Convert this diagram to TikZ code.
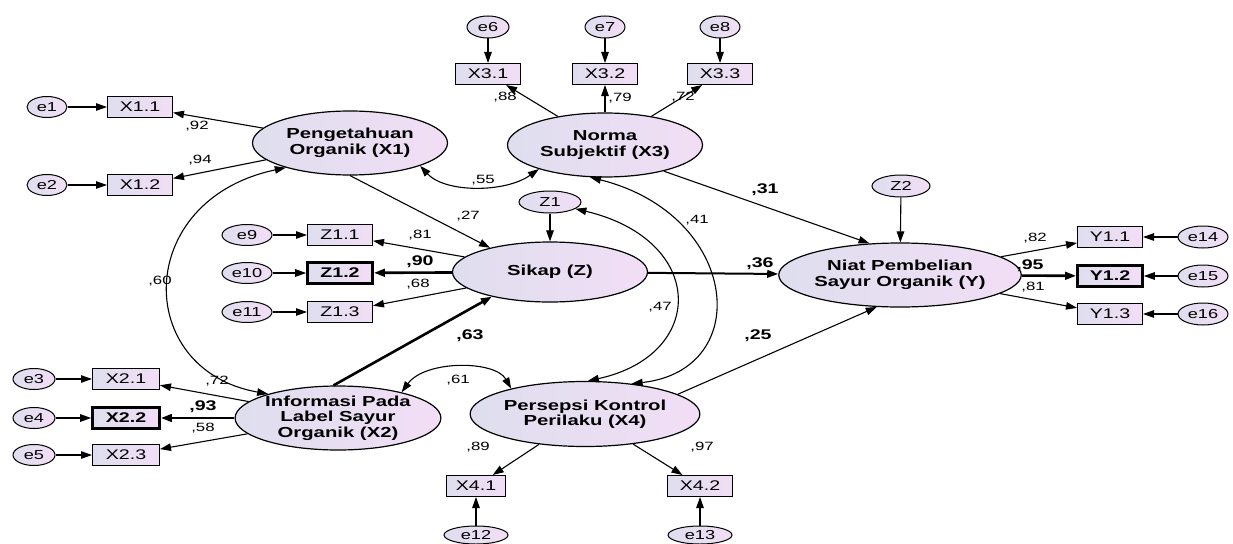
\documentclass[tikz,border=0pt]{standalone}
\usepackage{fontspec}
\setmainfont{Liberation Sans}[FakeStretch=1.4]
\usetikzlibrary{shapes.geometric,arrows.meta}
\definecolor{latL}{RGB}{222,222,238}
\definecolor{latR}{RGB}{242,222,246}
\begin{document}
\begin{tikzpicture}[x=1pt,y=-1pt,
 lat/.style={ellipse,draw,line width=1.2pt,left color=latL,right color=latR,minimum width=195pt,minimum height=64pt,inner sep=0pt,align=center,font=\fontsize{14.5}{15.5}\selectfont\bfseries},
 ind/.style={rectangle,draw,line width=1pt,left color=latL,right color=latR,minimum width=65pt,minimum height=21pt,inner sep=0pt,font=\fontsize{14}{15}\selectfont},
 indb/.style={ind,line width=2.6pt,font=\fontsize{14}{15}\selectfont\bfseries},
 err/.style={ellipse,draw,line width=1pt,left color=latL,right color=latR,minimum width=44pt,minimum height=21pt,inner sep=0pt,font=\fontsize{13}{14}\selectfont},
 pth/.style={-{Triangle[length=11pt,width=7.5pt]},line width=1.1pt},
 pthb/.style={pth,line width=2.6pt},
 cov/.style={{Triangle[length=11pt,width=7.5pt]}-{Triangle[length=11pt,width=7.5pt]},line width=1.1pt},
 lbl/.style={inner sep=0pt,font=\fontsize{12}{13}\selectfont},
 lblb/.style={inner sep=0pt,font=\fontsize{14}{15}\selectfont\bfseries}]
\fill[white] (0,0) rectangle (1233,543);
\useasboundingbox (0,0) rectangle (1233,543);

% latent variables
\node[lat] (X1) at (350,143) {Pengetahuan\\Organik (X1)};
\node[lat] (X3) at (605,145) {Norma\\Subjektif (X3)};
\node[lat,minimum height=60pt] (Z) at (550,272) {Sikap (Z)};
\node[lat] (Y) at (900,275) {Niat Pembelian\\Sayur Organik (Y)};
\node[lat] (X2) at (338,418) {Informasi Pada\\Label Sayur\\Organik (X2)};
\node[lat,minimum height=65pt] (X4) at (585,414) {Persepsi Kontrol\\Perilaku (X4)};

% indicators
\node[ind] (X11) at (140,107) {X1.1};
\node[ind] (X12) at (140,185) {X1.2};
\node[ind] (X31) at (488,74) {X3.1};
\node[ind] (X32) at (605,74) {X3.2};
\node[ind] (X33) at (720,74) {X3.3};
\node[ind] (Z11) at (340,235) {Z1.1};
\node[indb] (Z12) at (340,273) {Z1.2};
\node[ind] (Z13) at (340,312) {Z1.3};
\node[ind] (Y11) at (1110,237) {Y1.1};
\node[indb] (Y12) at (1110,276) {Y1.2};
\node[ind] (Y13) at (1110,314) {Y1.3};
\node[ind,minimum width=67pt] (X21) at (126,379) {X2.1};
\node[indb,minimum width=67pt] (X22) at (126,418) {X2.2};
\node[ind,minimum width=67pt] (X23) at (126,455) {X2.3};
\node[ind,minimum width=59pt] (X41) at (476,486) {X4.1};
\node[ind] (X42) at (700,486) {X4.2};

% errors / disturbances
\node[err,minimum width=40pt] (e1) at (47,107) {e1};
\node[err,minimum width=40pt] (e2) at (47,185) {e2};
\node[err,minimum width=42pt,minimum height=22pt] (e6) at (488,27) {e6};
\node[err,minimum width=40pt,minimum height=22pt] (e7) at (605,27) {e7};
\node[err,minimum width=40pt,minimum height=22pt] (e8) at (720,27) {e8};
\node[err,minimum width=50pt] (e9) at (247,235) {e9};
\node[err,minimum width=50pt] (e10) at (247,273) {e10};
\node[err,minimum width=50pt] (e11) at (247,312) {e11};
\node[err,minimum width=50pt,minimum height=22pt] (e14) at (1203,237) {e14};
\node[err,minimum width=50pt,minimum height=22pt] (e15) at (1203,276) {e15};
\node[err,minimum width=50pt,minimum height=22pt] (e16) at (1203,314) {e16};
\node[err,minimum width=42pt] (e3) at (34,379) {e3};
\node[err,minimum width=42pt] (e4) at (34,418) {e4};
\node[err,minimum width=42pt] (e5) at (34,455) {e5};
\node[err,minimum width=64pt,minimum height=18pt] (e12) at (476,535) {e12};
\node[err,minimum width=64pt,minimum height=18pt] (e13) at (700,535) {e13};
\node[err,minimum width=62pt,minimum height=22pt] (Z1) at (550,202) {Z1};
\node[err,minimum width=58pt,minimum height=22pt] (Z2) at (901,186) {Z2};

% error arrows
\foreach \e/\i in {e1/X11,e2/X12,e6/X31,e7/X32,e8/X33,e9/Z11,e10/Z12,e11/Z13,e14/Y11,e15/Y12,e16/Y13,e3/X21,e4/X22,e5/X23,e12/X41,e13/X42}
  \draw[pth] (\e) -- (\i);

% loadings
\draw[pth] (X1) -- (X11);
\draw[pth] (X1) -- (X12);
\draw[pth] (X3) -- (X31);
\draw[pth] (X3) -- (X32);
\draw[pth] (X3) -- (X33);
\draw[pth] (Z) -- (Z11);
\draw[pthb] (Z) -- (Z12);
\draw[pth] (Z) -- (Z13);
\draw[pth] (Y) -- (Y11);
\draw[pthb] (Y) -- (Y12);
\draw[pth] (Y) -- (Y13);
\draw[pth] (X2) -- (X21);
\draw[pthb] (X2) -- (X22);
\draw[pth] (X2) -- (X23);
\draw[pth] (X4) -- (X41);
\draw[pth] (X4) -- (X42);

% structural paths
\draw[pth] (Z1) -- (Z);
\draw[pth] (Z2) -- (Y);
\draw[pth] (X1.-90) -- (Z.158);
\draw[pth] (X3.-24) -- (Y.134);
\draw[pth,line width=2pt] (Z) -- (Y);
\draw[pthb] (X2.98) -- (Z.203);
\draw[pth] (X4.12) -- (Y.234);

% covariances
\draw[cov] (X1.-18) .. controls (445,193) and (505,193) .. (X3.200);
\draw[cov] (X1.201) .. controls (133,200) and (133,370) .. (X2.161);
\draw[cov] (X2.22) .. controls (425,360) and (495,360) .. (X4.161);
\draw[cov] (Z1.-15) .. controls (707,240) and (707,355) .. (X4.85);
\draw[cov] (X3.-115) .. controls (740,215) and (755,370) .. (X4.33);

% labels
\node[lbl] (l1) at (197,126) {,92};
\node[lbl] (l2) at (200,160) {,94};
\node[lbl] (l3) at (505,97) {,88};
\node[lbl] (l4) at (620,98) {,79};
\node[lbl] (l5) at (683,97) {,72};
\node[lbl] (l6) at (483,180) {,55};
\node[lblb] (l7) at (765,190) {,31};
\node[lbl] (l8) at (468,216) {,27};
\node[lbl] (l9) at (420,235) {,81};
\node[lblb] (l10) at (420,262) {,90};
\node[lbl] (l11) at (418,284) {,68};
\node[lbl] (l12) at (697,220) {,41};
\node[lbl] (l13) at (660,307) {,47};
\node[lblb] (l14) at (760,264) {,36};
\node[lblb] (l15) at (758,336) {,25};
\node[lbl] (l16) at (160,281) {,60};
\node[lblb] (l17) at (470,336) {,63};
\node[lbl] (l18) at (217,381) {,72};
\node[lblb] (l19) at (203,407) {,93};
\node[lbl] (l20) at (203,428) {,58};
\node[lbl] (l21) at (458,380) {,61};
\node[lbl] (l22) at (478,447) {,89};
\node[lbl] (l23) at (702,447) {,97};
\node[lbl] (l24) at (1035,238) {,82};
\node[lblb] (l25) at (1030,266) {,95};
\node[lbl] (l26) at (1033,287) {,81};
\end{tikzpicture}
\end{document}
